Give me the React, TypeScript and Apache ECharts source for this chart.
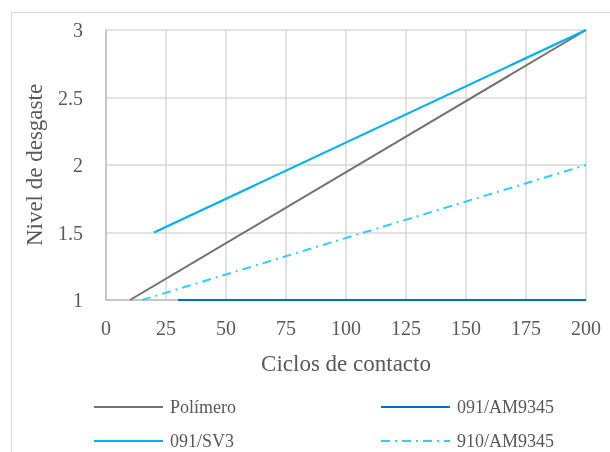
import React, { useEffect, useRef } from "react";
import * as echarts from "echarts";

// Wear level against contact cycles for each material
const seriesNames = ["Polímero", "091/AM9345", "091/SV3", "910/AM9345"];
const polimero: [number, number][] = [[10, 1], [200, 3]];
const am9345: [number, number][] = [[30, 1], [200, 1]];
const sv3: [number, number][] = [[20, 1.5], [200, 3]];
const am9345b: [number, number][] = [[15, 1], [200, 2]];

const xTicks = { min: 0, max: 200, interval: 25 };
const yTicks = { min: 1, max: 3, interval: 0.5 };

const FONT = "'Liberation Serif', 'Times New Roman', serif";
const TEXT = "#595959";
const GRID = "#d9d9d9";

export default function App() {
  const ref = useRef<HTMLDivElement>(null);

  useEffect(() => {
    if (!ref.current) return;
    const chart = echarts.init(ref.current, undefined, { renderer: "svg" });

    // one legend block per entry so each sits in its own cell of the 2x2 layout
    const legendAt = (name: string, left: number, top: number) => ({
      data: [name],
      left,
      top,
      padding: 0,
      itemWidth: 69,
      itemHeight: 14,
      itemGap: 0,
      itemStyle: { opacity: 0 },
      textStyle: { fontFamily: FONT, fontSize: 18, color: TEXT, padding: [0, 0, 0, 2] },
    });

    const line = (name: string, data: [number, number][], color: string, width: number, type: any) => ({
      name,
      type: "line",
      data,
      symbol: "none",
      lineStyle: { color, width, type },
      itemStyle: { color },
    });

    chart.setOption({
      animation: false,
      graphic: [
        {
          type: "rect",
          shape: { x: 11.5, y: 12.5, width: 700, height: 500 },
          style: { fill: "none", stroke: GRID, lineWidth: 1 },
          silent: true,
        },
      ],
      grid: { left: 106, top: 30, width: 480, height: 270 },
      xAxis: {
        type: "value",
        ...xTicks,
        name: "Ciclos de contacto",
        nameLocation: "middle",
        nameGap: 52,
        nameTextStyle: { fontFamily: FONT, fontSize: 23, color: TEXT },
        axisLine: { lineStyle: { color: "#bfbfbf", width: 1.5 } },
        axisTick: { show: false },
        axisLabel: { fontFamily: FONT, fontSize: 20, color: TEXT, margin: 18 },
        splitLine: { show: true, lineStyle: { color: GRID, width: 1.5 } },
      },
      yAxis: {
        type: "value",
        ...yTicks,
        name: "Nivel de desgaste",
        nameLocation: "middle",
        nameGap: 60,
        nameRotate: 90,
        nameTextStyle: { fontFamily: FONT, fontSize: 23, color: TEXT },
        axisLine: { show: true, lineStyle: { color: "#bfbfbf", width: 1.5 } },
        axisTick: { show: false },
        axisLabel: { fontFamily: FONT, fontSize: 20, color: TEXT, margin: 23 },
        splitLine: { show: true, lineStyle: { color: GRID, width: 1.5 } },
      },
      legend: [
        legendAt(seriesNames[0], 93, 398),
        legendAt(seriesNames[1], 380, 398),
        legendAt(seriesNames[2], 93, 432),
        legendAt(seriesNames[3], 380, 432),
      ],
      series: [
        line(seriesNames[0], polimero, "#767171", 2, "solid"),
        line(seriesNames[1], am9345, "#0070C0", 2.25, "solid"),
        line(seriesNames[2], sv3, "#00B0F0", 2.25, "solid"),
        line(seriesNames[3], am9345b, "#33CCFF", 2, [9, 5, 2, 5]),
      ],
    });

    return () => chart.dispose();
  }, []);

  return (
    <div
      ref={ref}
      style={{ position: "fixed", left: 0, top: 0, width: 610, height: 452 }}
    />
  );
}
